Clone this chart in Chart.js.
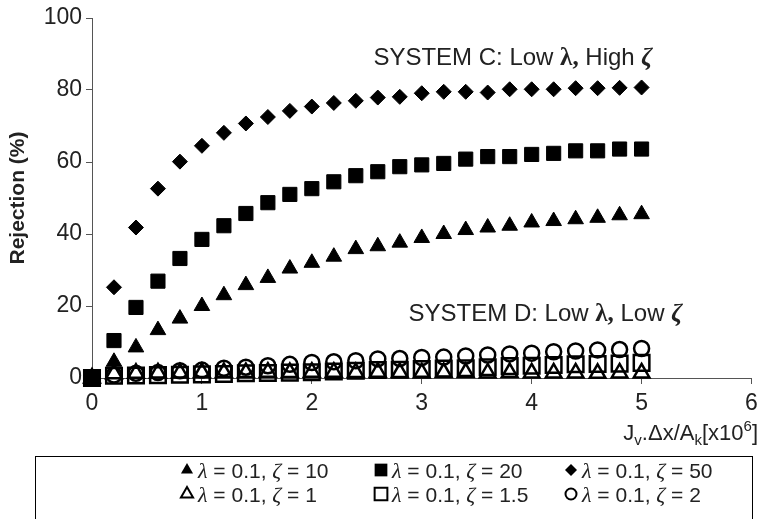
<!DOCTYPE html>
<html>
<head>
<meta charset="utf-8">
<script src="https://cdn.jsdelivr.net/npm/chart.js@4.4.1/dist/chart.umd.min.js"></script>
<style>
  html, body { margin: 0; padding: 0; background: #fff; }
</style>
</head>
<body>
<canvas id="chart" width="765" height="519"></canvas>
<script>
// x values: Jv.dx/Ak [x10^6]
const xVals = [0, 0.2, 0.4, 0.6, 0.8, 1.0, 1.2, 1.4, 1.6, 1.8, 2.0, 2.2, 2.4,
  2.6, 2.8, 3.0, 3.2, 3.4, 3.6, 3.8, 4.0, 4.2, 4.4, 4.6, 4.8, 5.0];

// Rejection (%) per case, lambda = 0.1
const rejZeta10 = [0, 4.5, 8.5, 13.3, 16.5, 20.0, 23.0, 25.8, 27.8, 30.4, 32.0, 33.7, 35.8,
  36.6, 37.6, 38.9, 40.0, 41.1, 41.8, 42.3, 43.2, 43.6, 44.1, 44.5, 45.2, 45.5];
const rejZeta20 = [0, 10.4, 19.6, 26.9, 33.2, 38.5, 42.3, 45.7, 48.7, 51.0, 52.6, 54.5, 56.2,
  57.3, 58.7, 59.2, 59.6, 60.8, 61.5, 61.5, 62.1, 62.4, 63.1, 63.1, 63.6, 63.6];
const rejZeta50 = [0, 25.2, 41.8, 52.6, 60.1, 64.5, 68.1, 70.7, 72.5, 74.2, 75.4, 76.4, 77.0,
  77.9, 78.1, 79.1, 79.5, 79.5, 79.3, 80.2, 80.2, 80.2, 80.5, 80.5, 80.6, 80.7];
const rejZeta1 = [0, 1.2, 1.3, 1.4, 1.4, 1.5, 1.5, 1.5, 1.6, 1.5, 1.6, 1.6, 1.5,
  1.6, 1.5, 1.4, 1.5, 1.5, 1.4, 1.5, 1.4, 1.4, 1.4, 1.3, 1.4, 1.4];
const rejZeta15 = [0, 0.6, 0.7, 0.8, 0.9, 1.0, 1.1, 1.3, 1.4, 1.5, 1.6, 1.8, 2.0,
  2.2, 2.3, 2.5, 2.6, 2.7, 3.0, 3.3, 3.4, 3.6, 3.8, 3.9, 4.0, 4.2];
const rejZeta2 = [0, 0.8, 1.3, 1.5, 2.0, 2.2, 2.7, 3.0, 3.4, 3.8, 4.3, 4.5, 4.8,
  5.3, 5.4, 5.7, 5.8, 6.1, 6.4, 6.7, 6.9, 7.3, 7.5, 7.8, 7.9, 8.2];

const xTicks = [0, 1, 2, 3, 4, 5, 6];
const yTicks = [0, 20, 40, 60, 80, 100];

const TXT = "#222";
const FONT = "'Liberation Sans', Arial, sans-serif";
const GREEK = "'Liberation Serif', 'Times New Roman', serif";

const pts = (ys) => ys.map((y, i) => ({ x: xVals[i], y }));

function series(label, ys, style, radius, filled) {
  return {
    label,
    data: pts(ys),
    showLine: false,
    clip: false,
    pointStyle: style,
    pointRadius: radius,
    pointHoverRadius: radius,
    pointBackgroundColor: filled ? "#000" : "rgba(0,0,0,0)",
    pointBorderColor: "#000",
    pointBorderWidth: filled ? 1 : 2.5,
    _filled: filled,
  };
}

// small marker painter for the legend
function drawMarker(ctx, style, x, y, r, filled) {
  ctx.beginPath();
  if (style === "triangle") {
    ctx.moveTo(x, y - r);
    ctx.lineTo(x + r * 0.866, y + r * 0.5);
    ctx.lineTo(x - r * 0.866, y + r * 0.5);
    ctx.closePath();
  } else if (style === "rect") {
    const s = r * Math.SQRT1_2;
    ctx.rect(x - s, y - s, 2 * s, 2 * s);
  } else if (style === "rectRot") {
    ctx.moveTo(x - r, y);
    ctx.lineTo(x, y - r);
    ctx.lineTo(x + r, y);
    ctx.lineTo(x, y + r);
    ctx.closePath();
  } else {
    ctx.arc(x, y, r, 0, Math.PI * 2);
  }
  ctx.fillStyle = "#000";
  ctx.strokeStyle = "#000";
  if (filled) {
    ctx.fill();
  } else {
    ctx.lineWidth = 2;
    ctx.stroke();
  }
}

// text made of runs with different fonts
function drawRuns(ctx, runs, x, y, alignRight) {
  let w = 0;
  runs.forEach((r) => { ctx.font = r.font; w += ctx.measureText(r.t).width; });
  let cx = alignRight ? x - w : x;
  ctx.textBaseline = "alphabetic";
  ctx.textAlign = "left";
  runs.forEach((r) => {
    ctx.font = r.font;
    ctx.fillText(r.t, cx, y + (r.dy || 0));
    cx += ctx.measureText(r.t).width;
  });
}

const extras = {
  id: "extras",
  afterDraw(chart) {
    const ctx = chart.ctx;
    const xs = chart.scales.x;
    const ys = chart.scales.y;
    ctx.save();
    ctx.fillStyle = TXT;

    // system annotations
    drawRuns(ctx, [
      { t: "SYSTEM C: Low ", font: `24px ${FONT}` },
      { t: "λ,", font: `bold 25px ${GREEK}` },
      { t: " High ", font: `24px ${FONT}` },
      { t: "ζ", font: `italic bold 25px ${GREEK}` },
    ], xs.getPixelForValue(2.56), ys.getPixelForValue(87), false);
    drawRuns(ctx, [
      { t: "SYSTEM D: Low ", font: `24px ${FONT}` },
      { t: "λ,", font: `bold 25px ${GREEK}` },
      { t: " Low ", font: `24px ${FONT}` },
      { t: "ζ", font: `italic bold 25px ${GREEK}` },
    ], xs.getPixelForValue(2.88), ys.getPixelForValue(15.8), false);

    // x axis title with sub/superscripts
    drawRuns(ctx, [
      { t: "J", font: `22px ${FONT}` },
      { t: "v", font: `15px ${FONT}`, dy: 5 },
      { t: ".Δx/A", font: `22px ${FONT}` },
      { t: "k", font: `15px ${FONT}`, dy: 5 },
      { t: "[x10", font: `22px ${FONT}` },
      { t: "6", font: `15px ${FONT}`, dy: -9 },
      { t: "]", font: `22px ${FONT}` },
    ], 758, 440, true);

    // legend box
    ctx.strokeStyle = "#000";
    ctx.lineWidth = 1;
    ctx.strokeRect(35.5, 456.5, 717, 80);
    const colX = [187, 381, 571];
    const rowY = [470, 494];
    chart.data.datasets.forEach((ds, i) => {
      const cx = colX[i % 3];
      const cy = rowY[Math.floor(i / 3)];
      const r = ds.pointStyle === "rect" ? 9 : ds.pointStyle === "rectRot" ? 6 : 7;
      drawMarker(ctx, ds.pointStyle, cx, cy, ds.pointStyle === "circle" ? 5.5 : r, ds._filled);
      const z = ds.label;
      ctx.fillStyle = TXT;
      drawRuns(ctx, [
        { t: "λ", font: `italic 22px ${GREEK}` },
        { t: " = 0.1, ", font: `21px ${FONT}` },
        { t: "ζ", font: `italic 22px ${GREEK}` },
        { t: " = " + z, font: `21px ${FONT}` },
      ], cx + 11, cy + 8, false);
    });
    ctx.restore();
  },
};

new Chart(document.getElementById("chart"), {
  type: "scatter",
  data: {
    datasets: [
      series("10", rejZeta10, "triangle", 9, true),
      series("20", rejZeta20, "rect", 10, true),
      series("50", rejZeta50, "rectRot", 7.5, true),
      series("1", rejZeta1, "triangle", 9, false),
      series("1.5", rejZeta15, "rect", 11, false),
      series("2", rejZeta2, "circle", 7.5, false),
    ],
  },
  options: {
    responsive: false,
    animation: false,
    devicePixelRatio: 1,
    layout: { padding: { top: 18, right: 12, bottom: 0, left: 0 } },
    plugins: { legend: { display: false }, tooltip: { enabled: false } },
    scales: {
      x: {
        type: "linear",
        min: 0,
        max: 6,
        afterBuildTicks: (s) => { s.ticks = xTicks.map((v) => ({ value: v })); },
        afterFit: (s) => { s.height = 141; },
        ticks: { color: TXT, font: { family: FONT, size: 23 }, padding: 6 },
        grid: { drawOnChartArea: false, drawTicks: true, tickLength: 6, color: "#555" },
        border: { display: true, color: "#555" },
      },
      y: {
        min: 0,
        max: 100,
        afterBuildTicks: (s) => { s.ticks = yTicks.map((v) => ({ value: v })); },
        afterFit: (s) => { s.width = 92; },
        ticks: { color: TXT, font: { family: FONT, size: 23 }, padding: 4 },
        grid: { drawOnChartArea: false, drawTicks: true, tickLength: 6, color: "#555" },
        border: { display: true, color: "#555" },
        title: {
          display: true,
          text: "Rejection (%)",
          color: TXT,
          font: { family: FONT, size: 21, weight: "bold" },
          padding: { top: 6, bottom: 0 },
        },
      },
    },
  },
  plugins: [extras],
});
</script>
</body>
</html>
